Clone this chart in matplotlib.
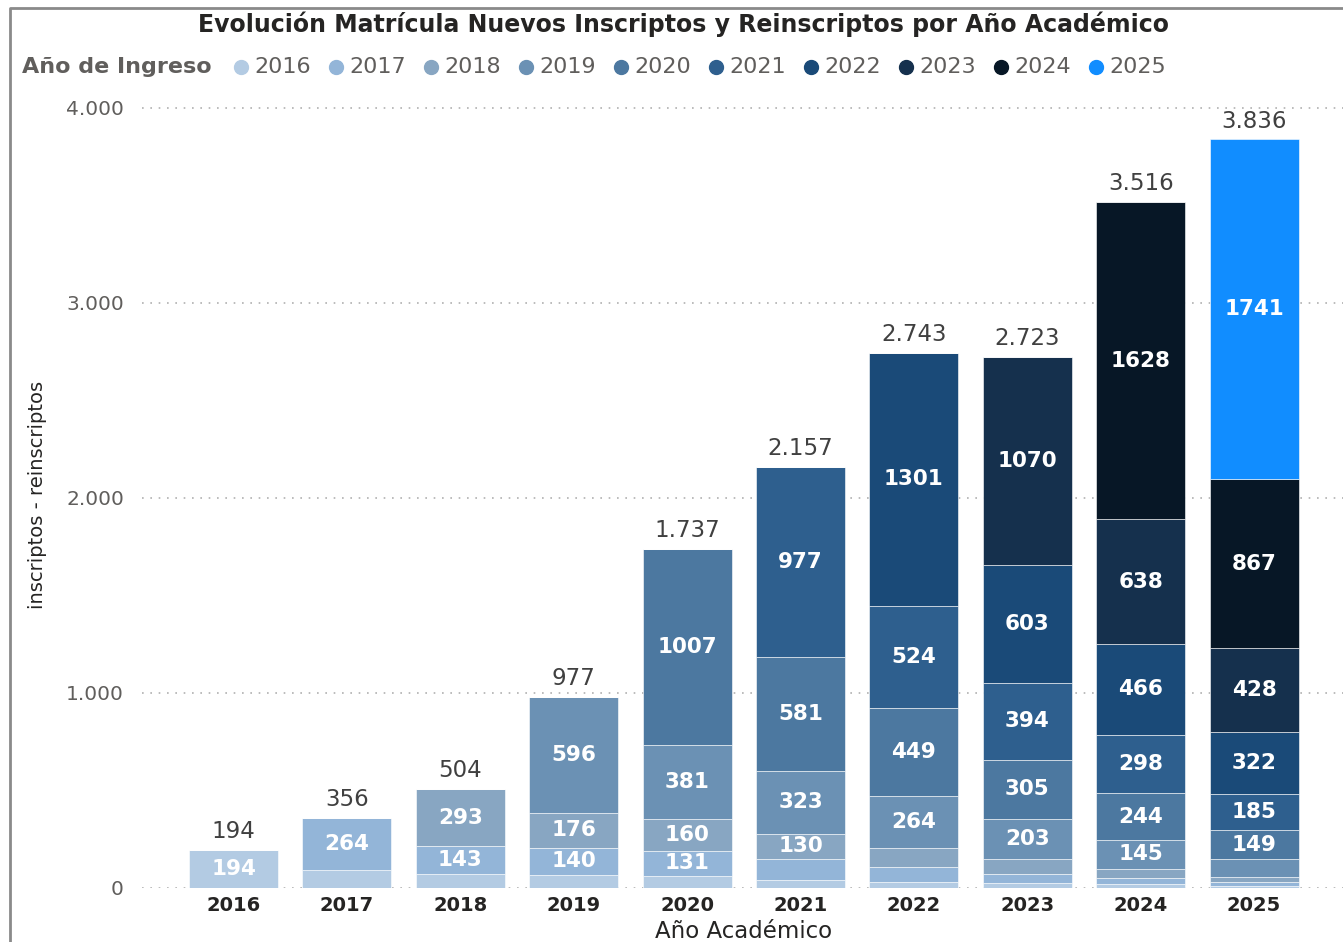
import matplotlib.pyplot as plt
from matplotlib.lines import Line2D
import numpy as np

# Años académicos (eje x) y cohortes por año de ingreso
anios = ["2016", "2017", "2018", "2019", "2020", "2021", "2022", "2023", "2024", "2025"]
cohortes = ["2016", "2017", "2018", "2019", "2020", "2021", "2022", "2023", "2024", "2025"]

# Matrícula por cohorte en cada año académico
c2016 = [194, 92, 68, 65, 58, 38, 29, 23, 17, 10]
c2017 = [0, 264, 143, 140, 131, 108, 74, 46, 30, 18]
c2018 = [0, 0, 293, 176, 160, 130, 102, 79, 50, 28]
c2019 = [0, 0, 0, 596, 381, 323, 264, 203, 145, 88]
c2020 = [0, 0, 0, 0, 1007, 581, 449, 305, 244, 149]
c2021 = [0, 0, 0, 0, 0, 977, 524, 394, 298, 185]
c2022 = [0, 0, 0, 0, 0, 0, 1301, 603, 466, 322]
c2023 = [0, 0, 0, 0, 0, 0, 0, 1070, 638, 428]
c2024 = [0, 0, 0, 0, 0, 0, 0, 0, 1628, 867]
c2025 = [0, 0, 0, 0, 0, 0, 0, 0, 0, 1741]

series = [c2016, c2017, c2018, c2019, c2020, c2021, c2022, c2023, c2024, c2025]
colores = ["#b3cbe3", "#93b5d8", "#88a6c2", "#6b91b4", "#4c78a0",
           "#2e5f8e", "#1a4a78", "#15304d", "#071726", "#118dff"]

W, H = 1343, 942
fig = plt.figure(figsize=(W / 100, H / 100), dpi=100)
ax = fig.add_axes([142 / W, 1 - 887.5 / H, (W - 142) / W, 787.5 / H])

x = np.arange(len(anios))
base = np.zeros(len(anios))
for vals, col in zip(series, colores):
    vals = np.array(vals)
    bars = ax.bar(x, vals, bottom=base, width=0.785, color=col,
                  edgecolor="white", linewidth=0.4, zorder=2)
    for rect, v, b in zip(bars, vals, base):
        if v >= 120:
            ax.text(rect.get_x() + rect.get_width() / 2, b + v / 2, str(v),
                    ha="center", va="center", color="white", fontsize=15.5,
                    fontweight="bold", zorder=3)
    base = base + vals

# Totales arriba de cada barra
for xi, t in zip(x, base):
    ax.annotate(f"{int(t):,}".replace(",", "."), (xi, t), xytext=(0, 5),
                textcoords="offset points", ha="center", va="bottom",
                fontsize=16.5, color="#404040")

ax.set_xlim((142 - 233.5) / 113.4, (W - 233.5) / 113.4)
ax.set_ylim(0, 787.5 / 195 * 1000)
ax.set_xticks(x)
ax.set_xticklabels(anios, fontsize=14, fontweight="bold", color="#252423")
ax.set_yticks([0, 1000, 2000, 3000, 4000])
ax.set_yticklabels(["0", "1.000", "2.000", "3.000", "4.000"], fontsize=14.5, color="#605e5c")
ax.tick_params(axis="y", length=0, pad=13)
ax.tick_params(axis="x", length=0, pad=6)
ax.grid(axis="y", linestyle=(0, (1, 4)), color="#b0b0b0", linewidth=1.2, zorder=0)
for s in ax.spines.values():
    s.set_visible(False)

# Títulos y etiquetas de ejes
fig.text(683 / W, 1 - 24 / H, "Evolución Matrícula Nuevos Inscriptos y Reinscriptos por Año Académico",
         ha="center", va="center", fontsize=17, fontweight="bold", color="#252423")
fig.text(38 / W, 1 - 495 / H, "inscriptos - reinscriptos", rotation=90,
         ha="center", va="center", fontsize=14, color="#252423")
fig.text(744 / W, 1 - 931 / H, "Año Académico", ha="center", va="center",
         fontsize=16.5, color="#252423")

# Leyenda manual
fig.text(22 / W, 1 - 67 / H, "Año de Ingreso", ha="left", va="center",
         fontsize=16, fontweight="bold", color="#605e5c")
for i, (c, col) in enumerate(zip(cohortes, colores)):
    cx = 241 + 95 * i
    fig.add_artist(Line2D([cx / W], [1 - 67 / H], marker="o", markersize=10,
                          color=col, linestyle="none"))
    fig.text((cx + 13) / W, 1 - 67 / H, c, ha="left", va="center",
             fontsize=16, color="#605e5c")

# Marco del visual
fig.add_artist(Line2D([10 / W, 10 / W, 1], [0, 1 - 8 / H, 1 - 8 / H],
                      color="#8a8a8a", linewidth=2))

fig.savefig("out.png", dpi=100)
